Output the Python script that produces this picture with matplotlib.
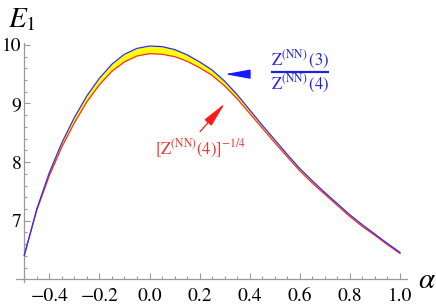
import matplotlib
matplotlib.use("Agg")
import matplotlib.pyplot as plt
from matplotlib.ticker import MultipleLocator

plt.rcParams['font.family'] = ['STIXGeneral', 'Liberation Serif', 'DejaVu Serif']
plt.rcParams['mathtext.fontset'] = 'stix'

alpha = [-0.50, -0.45, -0.40, -0.35, -0.30, -0.25, -0.20, -0.15, -0.10, -0.05,
         0.00, 0.05, 0.10, 0.15, 0.20, 0.25, 0.30, 0.35, 0.40, 0.45,
         0.50, 0.55, 0.60, 0.65, 0.70, 0.75, 0.80, 0.85, 0.90, 0.95, 1.00]
E_ratio = [6.41, 7.20, 7.82, 8.33, 8.76, 9.13, 9.43, 9.67, 9.84, 9.94,
           9.98, 9.97, 9.92, 9.83, 9.71, 9.57, 9.38, 9.15, 8.89, 8.63,
           8.38, 8.13, 7.89, 7.68, 7.48, 7.29, 7.10, 6.93, 6.77, 6.61, 6.46]
E_root = [6.41, 7.18, 7.77, 8.26, 8.67, 9.03, 9.32, 9.55, 9.71, 9.81,
          9.85, 9.84, 9.80, 9.72, 9.61, 9.48, 9.30, 9.08, 8.83, 8.58,
          8.33, 8.09, 7.85, 7.64, 7.45, 7.26, 7.07, 6.90, 6.75, 6.59, 6.44]

xticks = [-0.4, -0.2, 0.0, 0.2, 0.4, 0.6, 0.8, 1.0]
xticklabels = ["\u22120.4", "\u22120.2", "0.0", "0.2", "0.4", "0.6", "0.8", "1.0"]
yticks = [7, 8, 9, 10]
yticklabels = ["7", "8", "9", "10"]

fig = plt.figure(figsize=(4.36, 3.04), dpi=100)
ax = fig.add_axes([0.0356, 0.0717, 0.899, 0.7865])
ax.set_xlim(-0.535, 1.03)
ax.set_ylim(5.95, 10.03)

ax.fill_between(alpha, E_root, E_ratio, color='#ffff00', lw=0, zorder=1)
ax.plot(alpha, E_root, color='#ff2a2a', lw=0.9, zorder=2)
ax.plot(alpha, E_ratio, color='#2a2aff', lw=0.9, zorder=3)

axis_col = '#9a9a9a'
for s in ['top', 'right']:
    ax.spines[s].set_visible(False)
ax.spines['left'].set_position(('data', -0.5))
ax.spines['bottom'].set_position(('data', 6.0))
for s in ['left', 'bottom']:
    ax.spines[s].set_color(axis_col)
    ax.spines[s].set_linewidth(0.9)

ax.set_xticks(xticks)
ax.set_xticklabels(xticklabels)
ax.set_yticks(yticks)
ax.set_yticklabels(yticklabels)
ax.xaxis.set_minor_locator(MultipleLocator(0.05))
ax.yaxis.set_minor_locator(MultipleLocator(0.2))
ax.tick_params(which='both', direction='in', color=axis_col, width=0.8,
               labelsize=14, labelcolor='black')
ax.tick_params(which='major', length=4)
ax.tick_params(which='minor', length=2.5)
ax.tick_params(axis='x', which='both', pad=6)
ax.tick_params(axis='y', which='both', pad=2)

fig.text(22 / 436, 1 - 20 / 304, r"$E_1$", fontsize=21, ha='center', va='center')
fig.text(427 / 436, 1 - 281 / 304, r"$\alpha$", fontsize=21, ha='center', va='center')

blue_txt = '#2222dd'
red_txt = '#ee3333'
ax.text(0.601, 9.74, r"$\mathrm{Z}^{(\mathrm{NN})}\,(3)$", color=blue_txt,
        fontsize=12, ha='center', va='center')
ax.text(0.601, 9.33, r"$\mathrm{Z}^{(\mathrm{NN})}\,(4)$", color=blue_txt,
        fontsize=12, ha='center', va='center')
ax.plot([0.487, 0.715], [9.53, 9.53], color=blue_txt, lw=1.6,
        solid_capstyle='butt')
ax.annotate('', xy=(0.301, 9.50), xytext=(0.401, 9.50),
            arrowprops=dict(arrowstyle='-|>,head_length=1.2,head_width=0.22',
                            color='#1a1aff', lw=0.9, shrinkA=0, shrinkB=0,
                            mutation_scale=13))
ax.annotate('', xy=(0.301, 9.00), xytext=(0.202, 8.52),
            arrowprops=dict(arrowstyle='-|>,head_length=1.2,head_width=0.22',
                            color='#ff1a1a', lw=0.9, shrinkA=0, shrinkB=0,
                            mutation_scale=13))
ax.text(0.202, 8.22, r"$[\mathrm{Z}^{(\mathrm{NN})}(4)]^{-1/4}$", color=red_txt,
        fontsize=12, ha='center', va='center')

fig.savefig("out.png", dpi=100)
